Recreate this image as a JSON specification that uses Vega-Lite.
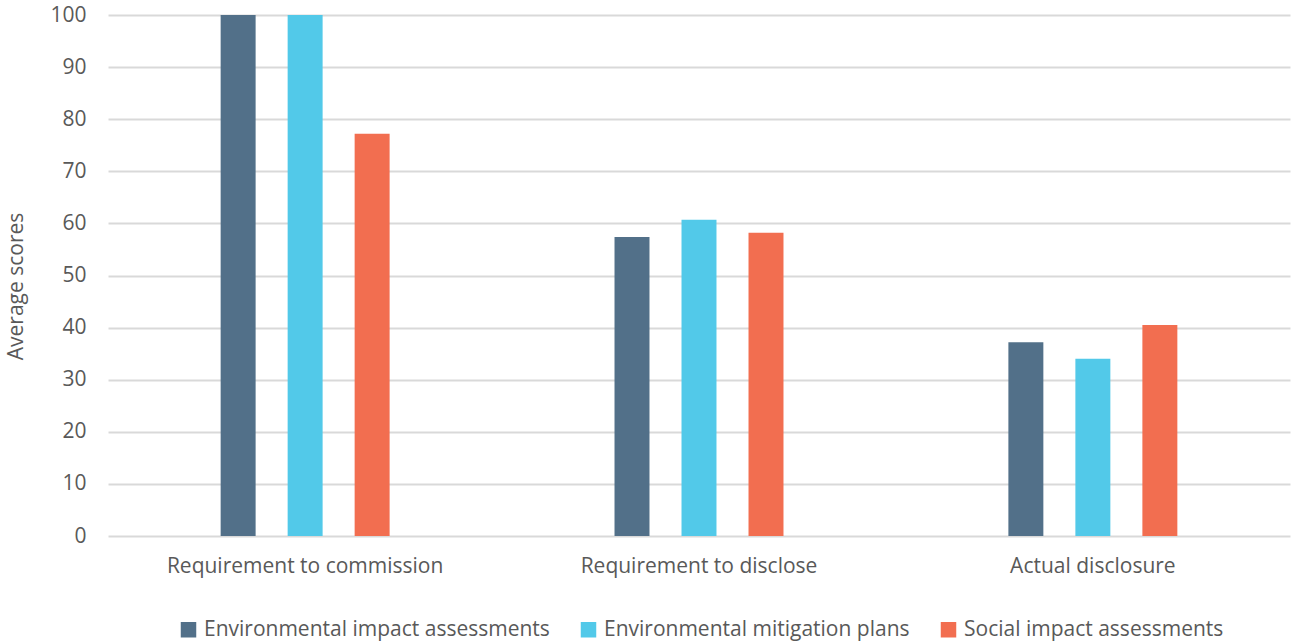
{
  "$schema": "https://vega.github.io/schema/vega-lite/v6.json",
  "width": 1182,
  "height": 521,
  "autosize": {"type": "none"},
  "padding": {"left": 108, "top": 15, "right": 2, "bottom": 107},
  "config": {"view": {"stroke": null}, "font": "Open Sans"},
  "data": {
    "values": [
      {"category": "Requirement to commission", "type": "Environmental impact assessments", "score": 100},
      {"category": "Requirement to commission", "type": "Environmental mitigation plans", "score": 100},
      {"category": "Requirement to commission", "type": "Social impact assessments", "score": 77.2},
      {"category": "Requirement to disclose", "type": "Environmental impact assessments", "score": 57.4},
      {"category": "Requirement to disclose", "type": "Environmental mitigation plans", "score": 60.7},
      {"category": "Requirement to disclose", "type": "Social impact assessments", "score": 58.2},
      {"category": "Actual disclosure", "type": "Environmental impact assessments", "score": 37.2},
      {"category": "Actual disclosure", "type": "Environmental mitigation plans", "score": 34.0},
      {"category": "Actual disclosure", "type": "Social impact assessments", "score": 40.5}
    ]
  },
  "mark": {"type": "bar"},
  "encoding": {
    "x": {
      "field": "category", "type": "nominal",
      "sort": ["Requirement to commission", "Requirement to disclose", "Actual disclosure"],
      "scale": {"paddingInner": 0.571, "paddingOuter": 0.286},
      "axis": {"title": null, "labelAngle": 0, "ticks": false, "domain": false, "labelPadding": 19, "labelFontSize": 21, "labelColor": "#595959", "labelLimit": 600}
    },
    "xOffset": {
      "field": "type", "type": "nominal",
      "sort": ["Environmental impact assessments", "Environmental mitigation plans", "Social impact assessments"],
      "scale": {"paddingInner": 0.478, "paddingOuter": 0}
    },
    "y": {
      "field": "score", "type": "quantitative",
      "scale": {"domain": [0, 100], "nice": false},
      "axis": {"title": "Average scores", "values": [0,10,20,30,40,50,60,70,80,90,100], "ticks": false, "domain": false, "labelPadding": 22, "labelFontSize": 21, "labelColor": "#595959", "gridColor": "#d9d9d9", "gridWidth": 2, "titleFontSize": 21, "titleFontWeight": "normal", "titleColor": "#595959", "titlePadding": 23, "titleY": 271}
    },
    "color": {
      "field": "type", "type": "nominal",
      "sort": ["Environmental impact assessments", "Environmental mitigation plans", "Social impact assessments"],
      "scale": {"range": ["#527089", "#52C9E9", "#F26E50"]},
      "legend": {"title": null, "orient": "none", "direction": "horizontal", "legendX": 70, "legendY": 604, "symbolType": "square", "symbolSize": 240, "symbolStrokeWidth": 0, "labelFontSize": 21, "labelColor": "#595959", "columnPadding": 28, "labelOffset": 5, "labelLimit": 600}
    }
  }
}
